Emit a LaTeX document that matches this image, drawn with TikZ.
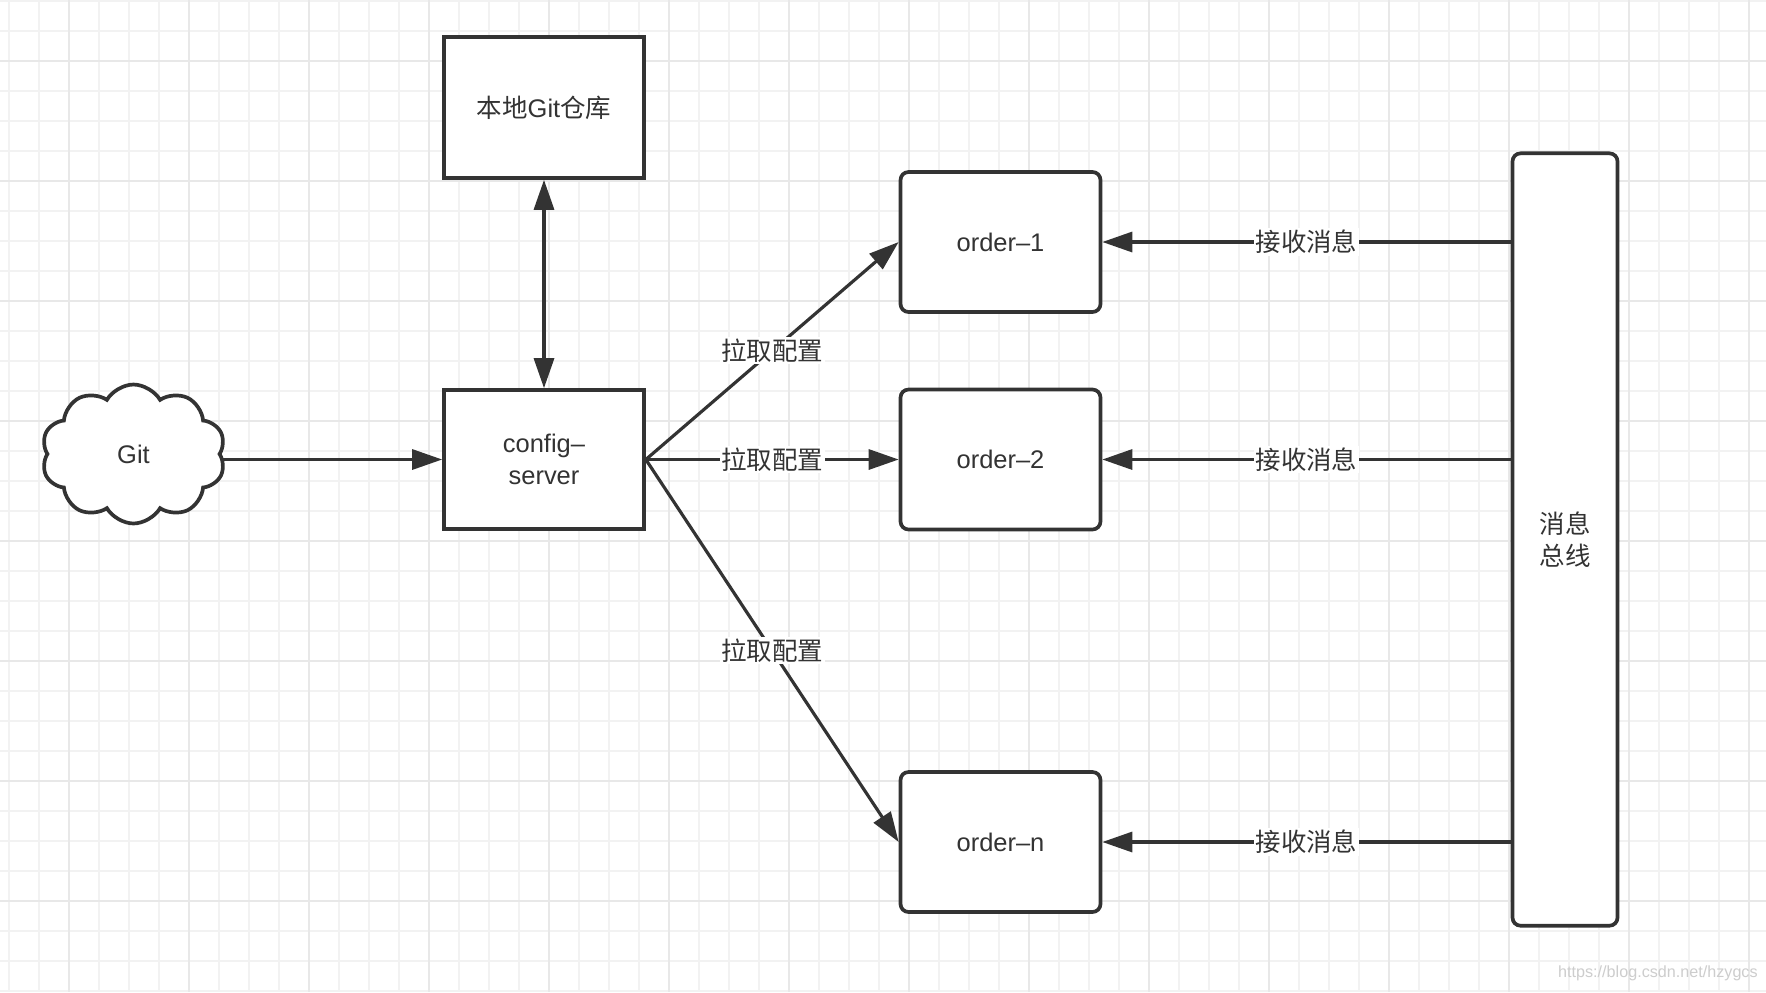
\documentclass[tikz,border=0pt]{standalone}
\usepackage{fontspec}
\setmainfont{Liberation Sans}
\newfontfamily\cjk{Noto Sans CJK SC}
\usetikzlibrary{arrows.meta,shapes.symbols}
\definecolor{ink}{HTML}{333333}
\definecolor{gridminor}{HTML}{F2F2F2}
\definecolor{gridmajor}{HTML}{E8E8E8}
\definecolor{wmark}{HTML}{CDCDCD}
\begin{document}
\begin{tikzpicture}[x=0.02cm,y=-0.02cm,
  box/.style={draw=ink,line width=2.1pt,fill=white,inner sep=0pt,text=ink,
    font=\fontsize{14.5}{18}\selectfont,align=center},
  rbox/.style={box,rounded corners=0.16cm},
  conn/.style={draw=ink,line width=1.8pt,>={Triangle[length=0.6cm,width=0.4cm]},->},
  conntwo/.style={conn,<->},
  lbl/.style={fill=white,text=ink,inner sep=1pt,font=\cjk\fontsize{14.5}{18}\selectfont},
  gminor/.style={draw=gridminor,line width=0.7pt},
  gmajor/.style={draw=gridmajor,line width=0.8pt}]
\useasboundingbox (0,0) rectangle (1766,992);
\fill[white] (0,0) rectangle (1766,992);
% grid
\foreach \x in {9,39,...,1766} \draw[gminor] (\x,0) -- (\x,992);
\foreach \y in {1,31,...,992} \draw[gminor] (0,\y) -- (1766,\y);
\foreach \x in {69,189,...,1766} \draw[gmajor] (\x,0) -- (\x,992);
\foreach \y in {61,181,...,992} \draw[gmajor] (0,\y) -- (1766,\y);
% nodes
\node[box,minimum width=4cm,minimum height=2.82cm] (local) at (544,107.5) {{\cjk 本地}Git{\cjk 仓库}};
\node[box,minimum width=4cm,minimum height=2.78cm] (cfg) at (544,459.5) {config--\\server};
\node[box,cloud,cloud puffs=10,cloud puff arc=120,cloud ignores aspect,
  minimum width=3.68cm,minimum height=2.78cm] (git) at (133.5,454) {Git};
\node[rbox,minimum width=4cm,minimum height=2.8cm] (o1) at (1000.5,242) {order--1};
\node[rbox,minimum width=4cm,minimum height=2.8cm] (o2) at (1000.5,459.5) {order--2};
\node[rbox,minimum width=4cm,minimum height=2.8cm] (on) at (1000.5,842) {order--n};
\node[rbox,minimum width=2.1cm,minimum height=15.45cm] (bus) at (1565,539.5) {{\cjk 消息}\\{\cjk 总线}};
\node[anchor=east,text=wmark,inner sep=0pt,font=\fontsize{9.2}{11}\selectfont] (wm) at (1758,973) {https://blog.csdn.net/hzygcs};
% connectors
\draw[conn] (git.east |- cfg.west) -- (cfg.west);
\draw[conntwo] (local.south) -- (cfg.north);
\draw[conn] (cfg.east) -- node[lbl]{拉取配置} (o1.west);
\draw[conn] (cfg.east) -- node[lbl]{拉取配置} (o2.west);
\draw[conn] (cfg.east) -- node[lbl]{拉取配置} (on.west);
\draw[conn] (bus.west |- o1.east) -- node[lbl]{接收消息} (o1.east);
\draw[conn] (bus.west |- o2.east) -- node[lbl]{接收消息} (o2.east);
\draw[conn] (bus.west |- on.east) -- node[lbl]{接收消息} (on.east);
\end{tikzpicture}
\end{document}
